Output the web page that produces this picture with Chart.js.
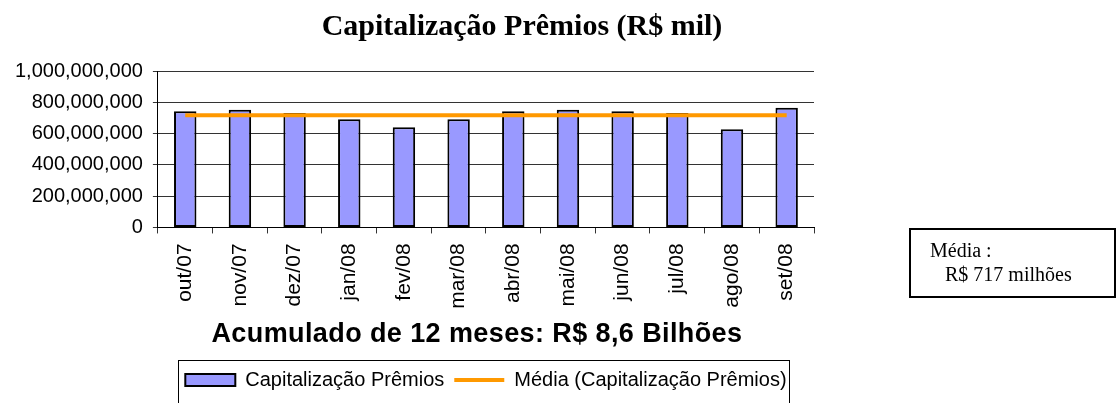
<!DOCTYPE html>
<html>
<head>
<meta charset="utf-8">
<script src="https://cdn.jsdelivr.net/npm/chart.js@4/dist/chart.umd.min.js"></script>
<style>
  html, body { margin: 0; padding: 0; background: #fff; }
  #wrap { position: relative; width: 1118px; height: 403px; overflow: hidden; }
  #chart { position: absolute; left: 0; top: 0; }
  #titulo {
    position: absolute; left: 0; top: 7px; width: 1044px; text-align: center;
    font: bold 30px/36px "Liberation Serif", "Times New Roman", serif; color: #000;
  }
  #media {
    position: absolute; left: 909px; top: 228px; width: 203px;
    border: 2px solid #000; box-sizing: content-box;
    font: 20px/24px "Liberation Serif", "Times New Roman", serif; color: #000;
    padding-top: 8px; height: 58px;
  }
  #media div { padding-left: 19px; white-space: nowrap; }
  #media div.l2 { padding-left: 34px; }
</style>
</head>
<body>
<div id="wrap">
  <canvas id="chart" width="1118" height="403"></canvas>
  <div id="titulo">Capitalização Prêmios (R$ mil)</div>
  <div id="media"><div>Média :</div><div class="l2">R$ 717 milhões</div></div>
</div>
<script>
// dados
const meses = ['out/07', 'nov/07', 'dez/07', 'jan/08', 'fev/08', 'mar/08',
               'abr/08', 'mai/08', 'jun/08', 'jul/08', 'ago/08', 'set/08'];
const premios = [742000000, 753000000, 731000000, 691000000, 640000000, 691000000,
                 742000000, 753000000, 742000000, 731000000, 628000000, 765000000];
const media = [717000000, 717000000, 717000000, 717000000, 717000000, 717000000,
               717000000, 717000000, 717000000, 717000000, 717000000, 717000000];
const eixoY = { min: 0, max: 1000000000, passo: 200000000 };
const tituloX = 'Acumulado de 12 meses: R$ 8,6 Bilhões';

const sans = '"Liberation Sans", Arial, sans-serif';
Chart.defaults.font.family = sans;
Chart.defaults.color = '#000';

// legenda centrada na área do gráfico, com moldura
const legendaPlugin = {
  id: 'legendaMoldura',
  beforeDraw(chart) {
    const lg = chart.legend;
    lg.left = chart.chartArea.left;
    lg.right = chart.chartArea.right;
    lg.width = lg.right - lg.left;
  },
  afterDraw(chart) {
    const lg = chart.legend;
    const pad = lg.options.labels.padding;
    const lw = lg.lineWidths[0];
    const inicio = (lg.left + pad + lg.right - lw) / 2;
    const ctx = chart.ctx;
    ctx.save();
    ctx.strokeStyle = '#000';
    ctx.lineWidth = 1;
    ctx.strokeRect(Math.round(inicio - 7) + 0.5, Math.round(lg.top) + 0.5, Math.round(lw - 2 * pad + 20), 80);
    ctx.restore();
  }
};

// título do eixo X desenhado com leve espaçamento entre letras (o do Chart.js fica transparente, só reserva o espaço)
const tituloXPlugin = {
  id: 'tituloX',
  afterDraw(chart) {
    const sx = chart.scales.x;
    const t = sx.options.title;
    const lh = t.font.size * 1.2;
    const ctx = chart.ctx;
    ctx.save();
    ctx.font = 'bold 27px ' + sans;
    ctx.letterSpacing = '0.4px';
    ctx.fillStyle = '#000';
    ctx.textAlign = 'center';
    ctx.textBaseline = 'middle';
    const cx = (chart.chartArea.left + chart.chartArea.right) / 2 - 9;
    ctx.fillText(tituloX, cx, sx.bottom - t.padding.bottom - lh / 2);
    ctx.restore();
  }
};

new Chart(document.getElementById('chart'), {
  type: 'bar',
  data: {
    labels: meses,
    datasets: [
      {
        label: 'Capitalização Prêmios',
        data: premios,
        backgroundColor: '#9999FF',
        borderColor: '#000',
        borderWidth: 2,
        borderSkipped: false,
        barPercentage: 0.41,
        categoryPercentage: 1,
        order: 1
      },
      {
        type: 'line',
        label: 'Média (Capitalização Prêmios)',
        data: media,
        borderColor: '#FF9900',
        backgroundColor: '#FF9900',
        borderWidth: 4,
        pointRadius: 0,
        pointHoverRadius: 0,
        pointBorderWidth: 4,
        fill: false,
        order: 0
      }
    ]
  },
  options: {
    responsive: false,
    animation: false,
    layout: { padding: { left: 5, right: 304, top: 71, bottom: 3 } },
    plugins: {
      title: { display: false },
      tooltip: { enabled: false },
      legend: {
        position: 'bottom',
        labels: {
          font: { size: 20 },
          usePointStyle: true,
          pointStyleWidth: 50,
          boxHeight: 12,
          padding: 10,
          sort: (a, b) => a.datasetIndex - b.datasetIndex,
          generateLabels(chart) {
            const itens = Chart.defaults.plugins.legend.labels.generateLabels(chart);
            itens.forEach(it => { it.pointStyle = it.datasetIndex === 0 ? 'rect' : 'line'; });
            return itens;
          }
        }
      }
    },
    scales: {
      x: {
        border: { color: '#000', width: 1 },
        grid: { drawOnChartArea: false, tickLength: 6, color: '#333', offset: true },
        ticks: { font: { size: 21 }, minRotation: 90, maxRotation: 90, padding: 10, autoSkip: false },
        title: {
          display: true,
          text: tituloX,
          color: 'rgba(0,0,0,0)',
          font: { size: 26, weight: 'bold' },
          padding: { top: 0, bottom: 10 }
        }
      },
      y: {
        min: eixoY.min,
        max: eixoY.max,
        border: { color: '#000', width: 1 },
        grid: { color: '#333', tickLength: 5 },
        ticks: {
          stepSize: eixoY.passo,
          font: { size: 20 },
          padding: 10,
          callback: v => v.toLocaleString('en-US')
        }
      }
    }
  },
  plugins: [legendaPlugin, tituloXPlugin]
});
</script>
</body>
</html>
